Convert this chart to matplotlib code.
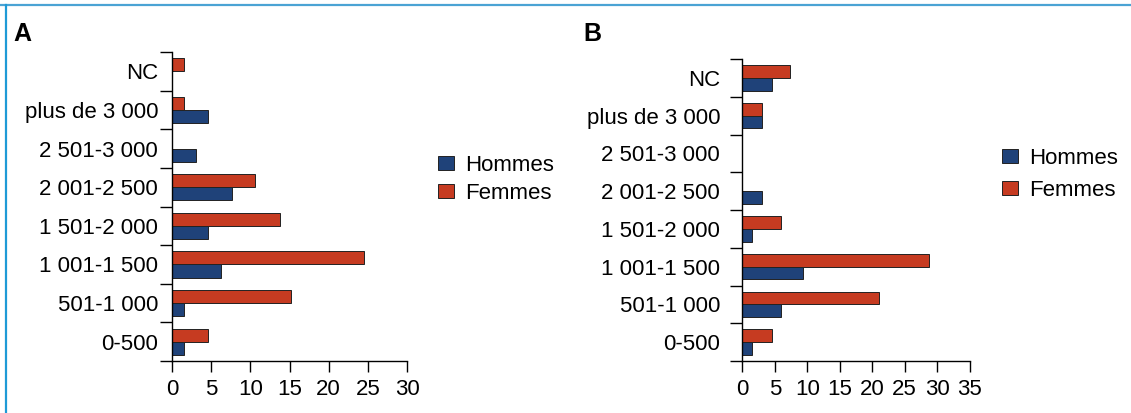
import matplotlib.pyplot as plt
import numpy as np
from matplotlib.lines import Line2D
from matplotlib.ticker import FixedLocator

plt.rcParams['font.family'] = ['Liberation Sans', 'DejaVu Sans']

categories = ['0-500', '501-1 000', '1 001-1 500', '1 501-2 000',
              '2 001-2 500', '2 501-3 000', 'plus de 3 000', 'NC']

hommes_a = [1.5, 1.5, 6.2, 4.6, 7.7, 3.1, 4.6, 0]
femmes_a = [4.6, 15.2, 24.5, 13.8, 10.6, 0, 1.5, 1.5]

hommes_b = [1.5, 6.0, 9.3, 1.5, 3.0, 0, 3.0, 4.5]
femmes_b = [4.5, 21.1, 28.8, 6.0, 0, 0, 3.0, 7.4]

blue = '#1f4279'
red = '#c63b21'

fig = plt.figure(figsize=(11.31, 4.13), dpi=100)


def draw_panel(rect, hommes, femmes, xmax, letter, letter_pos, legend_pos, label_pad, spacing):
    ax = fig.add_axes(rect)
    y = np.arange(len(categories))
    h = 0.34
    bh = ax.barh(y - h / 2, hommes, height=h, color=blue, edgecolor='#222222',
                 linewidth=0.7, label='Hommes')
    bf = ax.barh(y + h / 2, femmes, height=h, color=red, edgecolor='#222222',
                 linewidth=0.7, label='Femmes')
    ax.set_ylim(-0.5, len(categories) - 0.5)
    ax.set_xlim(0, xmax)
    ax.set_xticks(np.arange(0, xmax + 1, 5))
    ax.set_yticks(y)
    ax.set_yticklabels(categories)
    ax.yaxis.set_minor_locator(FixedLocator(np.arange(-0.5, len(categories), 1)))
    ax.tick_params(axis='y', which='major', length=0, pad=label_pad, labelsize=16)
    ax.tick_params(axis='y', which='minor', length=9, width=1, direction='out')
    ax.tick_params(axis='x', length=8, width=1, direction='out', pad=5, labelsize=16)
    for s in ['top', 'right']:
        ax.spines[s].set_visible(False)
    ax.spines['left'].set_linewidth(1)
    ax.spines['bottom'].set_linewidth(1)
    fig.text(letter_pos[0], letter_pos[1], letter, fontsize=18, fontweight='bold',
             ha='left', va='center')
    fig.legend([bh, bf], ['Hommes', 'Femmes'], loc='upper left',
               bbox_to_anchor=legend_pos, frameon=False, fontsize=16,
               handlelength=0.7, handleheight=0.6, handletextpad=0.5,
               labelspacing=spacing, borderpad=0, borderaxespad=0)
    return ax


draw_panel([0.1521, 0.1259, 0.2078, 0.7482], hommes_a, femmes_a, 30, 'A',
           (13 / 1131, 1 - 34 / 413), (438 / 1131, 1 - 155 / 413), 10, 0.3)
draw_panel([0.6563, 0.1259, 0.2011, 0.7312], hommes_b, femmes_b, 35, 'B',
           (583 / 1131, 1 - 34 / 413), (1002 / 1131, 1 - 148 / 413), 16, 0.5)

# blue frame lines (top and left)
fig.add_artist(Line2D([0, 1], [1 - 4.5 / 413] * 2, color='#4aa3d4', linewidth=1.6,
                      transform=fig.transFigure))
fig.add_artist(Line2D([6 / 1131] * 2, [0, 1 - 4.5 / 413], color='#1e9ad6', linewidth=1.6,
                      transform=fig.transFigure))

fig.savefig('out.png', dpi=100)
